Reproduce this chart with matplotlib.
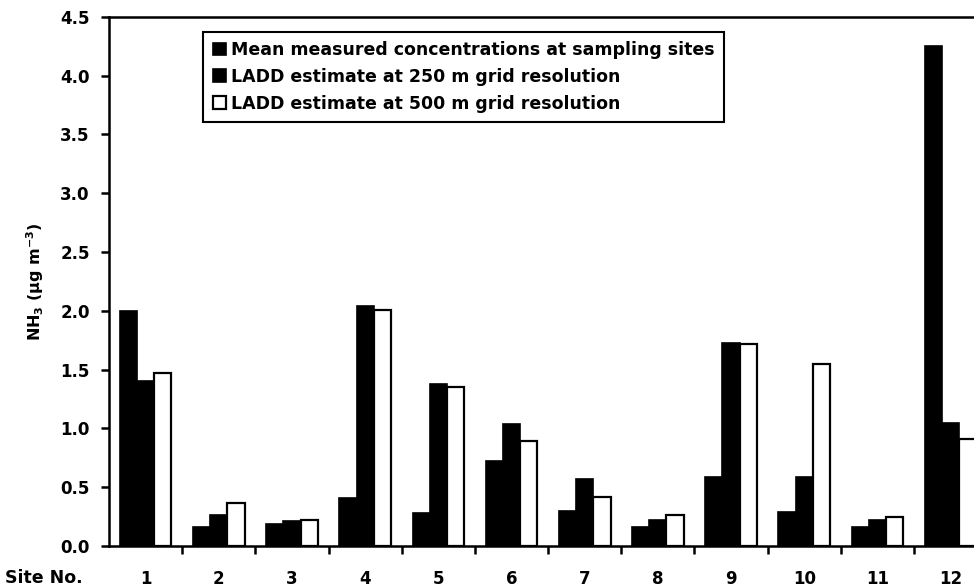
import numpy as np
import matplotlib.pyplot as plt
from matplotlib.ticker import FixedLocator, MultipleLocator

plt.rcParams['font.family'] = ['DejaVu Sans']
plt.rcParams['font.weight'] = 'bold'

sites = ['1', '2', '3', '4', '5', '6', '7', '8', '9', '10', '11', '12']
measured = [2.00, 0.16, 0.19, 0.41, 0.28, 0.72, 0.30, 0.16, 0.59, 0.29, 0.16, 4.25]
ladd_250 = [1.40, 0.26, 0.21, 2.04, 1.38, 1.04, 0.57, 0.22, 1.73, 0.59, 0.22, 1.05]
ladd_500 = [1.47, 0.37, 0.22, 2.01, 1.35, 0.89, 0.42, 0.26, 1.72, 1.55, 0.25, 0.91]

fig = plt.figure(figsize=(9.74, 5.88), dpi=100)
ax = fig.add_axes([0.112, 0.0714, 0.888, 0.900])

x = np.arange(len(sites))
w = 0.235
ax.bar(x - w, measured, w, color='black', edgecolor='black', linewidth=1.2,
       label='Mean measured concentrations at sampling sites')
ax.bar(x, ladd_250, w, color='black', edgecolor='black', linewidth=1.2,
       label='LADD estimate at 250 m grid resolution')
ax.bar(x + w, ladd_500, w, color='white', edgecolor='black', linewidth=1.6,
       label='LADD estimate at 500 m grid resolution')

ax.set_ylim(0, 4.5)
ax.set_xlim(-0.5, 11.32)
ax.yaxis.set_major_locator(MultipleLocator(0.5))
ax.yaxis.set_major_formatter(plt.FormatStrFormatter('%.1f'))

# ticks sit between the sites, labels under the sites
ax.xaxis.set_major_locator(FixedLocator(np.arange(0.5, 11.5, 1)))
ax.set_xticklabels([])
ax.xaxis.set_minor_locator(FixedLocator(x))
ax.set_xticklabels(sites, minor=True)
ax.tick_params(axis='x', which='minor', length=0, pad=17, labelsize=12)
ax.tick_params(axis='x', which='major', direction='out', length=6, width=1.8)
ax.tick_params(axis='y', direction='out', length=6, width=1.8, labelsize=12, pad=8)

for s in ['left', 'bottom', 'top']:
    ax.spines[s].set_linewidth(1.8)
ax.spines['right'].set_visible(False)

ax.set_ylabel('NH$_\\mathbf{3}$ ($\\mathbf{\\mu}$g m$^{\\mathbf{-3}}$)', fontsize=11.5,
              fontweight='bold', labelpad=10)
fig.text(0.005, 0.017, 'Site No.', fontsize=12.5, fontweight='bold', ha='left', va='center')

leg = ax.legend(loc='upper left', bbox_to_anchor=(0.109, 0.972), fontsize=12.5,
                frameon=True, fancybox=False, edgecolor='black', framealpha=1,
                handlelength=0.75, handleheight=0.75, handletextpad=0.3,
                labelspacing=0.5, borderpad=0.55, borderaxespad=0)
leg.get_frame().set_linewidth(1.5)

fig.savefig('out.png', dpi=100)
